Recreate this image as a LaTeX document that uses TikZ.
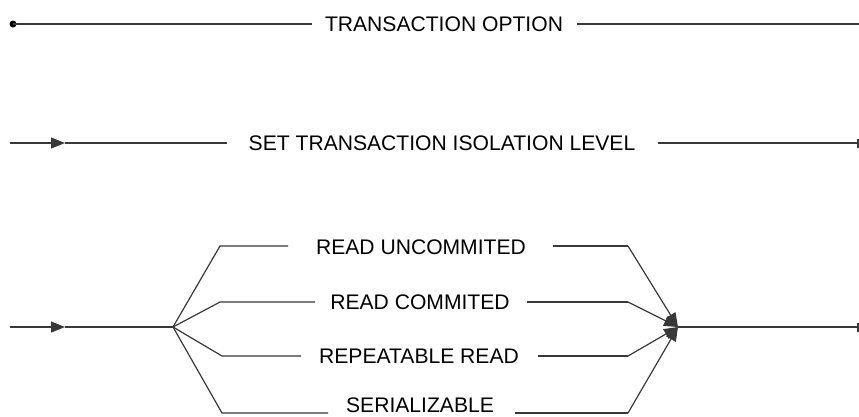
\documentclass[tikz,border=0pt]{standalone}
\usepackage{fontspec}
\setmainfont{Liberation Sans}
\usetikzlibrary{arrows.meta}
\tikzset{
  ln/.style={draw=black!78, line width=1.2pt},
  lbl/.style={inner sep=0pt, font=\fontsize{21.1}{25}\selectfont},
  tip/.style={-{Triangle[length=14pt,width=11pt]}},
}
\begin{document}
\begin{tikzpicture}[x=1pt,y=-1pt]
\useasboundingbox (0,0) rectangle (859,416);
\clip (0,0) rectangle (859,416);
% Row 1
\node[circle, fill=black, inner sep=0pt, minimum size=7pt] (dot) at (13,24) {};
\node[lbl] (t1) at (444,24) {TRANSACTION OPTION};
\coordinate (a1) at (312,24);
\coordinate (b1) at (577,24);
\coordinate (e1) at (859,24);
\draw[ln] (dot.center) -- (a1);
\draw[ln] (b1) -- (e1);
% Row 2
\coordinate (s2) at (10,143);
\coordinate (m2) at (65,143);
\coordinate (a2) at (227,143);
\node[lbl] (t2) at (442,143) {SET TRANSACTION ISOLATION LEVEL};
\coordinate (b2) at (658,143);
\coordinate (e2) at (858,143);
\coordinate (e2t) at (858,139);
\coordinate (e2b) at (858,148);
\draw[ln,tip] (s2) -- (m2);
\draw[ln] (m2) -- (a2);
\draw[ln] (b2) -- (e2);
\draw[ln] (e2t) -- (e2b);
% Row 3
\coordinate (s3) at (10,327);
\coordinate (m3) at (65,327);
\coordinate (sp) at (173,327);
\coordinate (jn) at (678,327);
\coordinate (e3) at (858,327);
\coordinate (e3t) at (858,323);
\coordinate (e3b) at (858,332);
\draw[ln,tip] (s3) -- (m3);
\draw[ln] (m3) -- (sp);
\draw[ln] (jn) -- (e3);
\draw[ln] (e3t) -- (e3b);
% branches
\node[lbl] (ru) at (421,247) {READ UNCOMMITED};
\node[lbl] (rc) at (420,302) {READ COMMITED};
\node[lbl] (rr) at (419,356) {REPEATABLE READ};
\node[lbl] (se) at (420,405) {SERIALIZABLE};
% READ UNCOMMITED
\coordinate (ru1) at (220,246); \coordinate (ru2) at (288,246);
\coordinate (ru3) at (553,246); \coordinate (ru4) at (628,246);
\draw[ln] (sp) -- (ru1) -- (ru2);
\draw[ln] (ru3) -- (ru4);
\draw[ln,tip] (ru4) -- (jn);
% READ COMMITED
\coordinate (rc1) at (220,302); \coordinate (rc2) at (315,302);
\coordinate (rc3) at (527,302); \coordinate (rc4) at (628,302);
\draw[ln] (sp) -- (rc1) -- (rc2);
\draw[ln] (rc3) -- (rc4);
\draw[ln,tip] (rc4) -- (jn);
% REPEATABLE READ
\coordinate (rr1) at (222,356); \coordinate (rr2) at (301,356);
\coordinate (rr3) at (538,356); \coordinate (rr4) at (628,356);
\draw[ln] (sp) -- (rr1) -- (rr2);
\draw[ln] (rr3) -- (rr4);
\draw[ln,tip] (rr4) -- (jn);
% SERIALIZABLE
\coordinate (se1) at (222,413); \coordinate (se2) at (328,413);
\coordinate (se3) at (515,413); \coordinate (se4) at (628,413);
\draw[ln] (sp) -- (se1) -- (se2);
\draw[ln] (se3) -- (se4);
\draw[ln,tip] (se4) -- (jn);
\end{tikzpicture}
\end{document}
